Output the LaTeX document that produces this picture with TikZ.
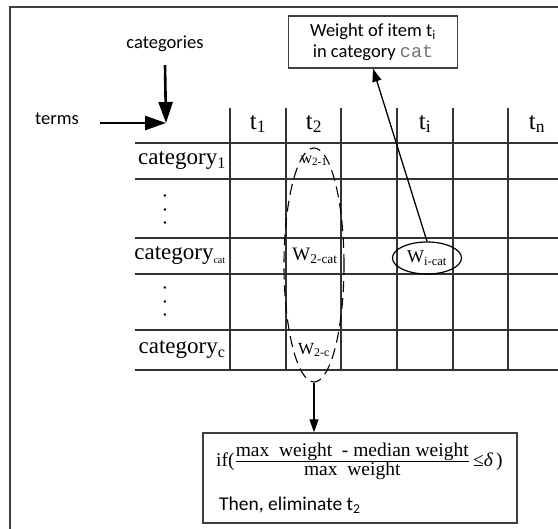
\documentclass[tikz,border=0pt]{standalone}
\usepackage{fontspec}
\setmainfont{Liberation Serif}
\setsansfont{Carlito}
\setmonofont{Liberation Mono}
\usetikzlibrary{arrows.meta, positioning, calc, shapes.geometric}

\begin{document}
\begin{tikzpicture}[x=1pt, y=-1pt,
		grid/.style={line width=1.4pt, black!80},
		lbl/.style={font=\sffamily\fontsize{18.5}{21}\selectfont, inner sep=0pt},
		cell/.style={font=\fontsize{23}{26}\selectfont, inner sep=0pt},
		vdots/.style={font=\fontsize{20}{22}\selectfont, inner sep=0pt, rotate=90},
		bigarrow/.style={line width=2.6pt, -{Triangle[length=21pt, width=14pt]}},
		smallarrow/.style={line width=1.3pt, -{Triangle[length=13pt, width=9pt]}},
		textbox/.style={draw, line width=1.3pt, black!75, text=black, inner sep=0pt}]
	\useasboundingbox (0,0) rectangle (558,529);
	\draw[line width=1.4pt, black!75] (10,7) rectangle (600,600);
	% the term/category grid
	\foreach \x in {230,286,341,397,453,508}
		\draw[grid] (\x,108) -- (\x,370);
	\foreach \y in {143,179,238,274,330,370}
		\draw[grid] (135,\y) -- (558,\y);
	\node[cell, font=\fontsize{25}{28}\selectfont] (h1) at (258,124) {t\textsubscript{1}};
	\node[cell, font=\fontsize{25}{28}\selectfont] (h2) at (314,124) {t\textsubscript{2}};
	\node[cell, font=\fontsize{25}{28}\selectfont] (hi) at (425,124) {t\textsubscript{i}};
	\node[cell, font=\fontsize{25}{28}\selectfont] (hn) at (537,124) {t\textsubscript{n}};
	\node[cell] (c1) at (182,161) {category\textsubscript{1}};
	\node[vdots] (d1) at (165,210) {.\hspace{8.5pt}.\hspace{8.5pt}.};
	\node[cell] (ccat) at (180,256) {category\textsubscript{\fontsize{10}{11}\selectfont cat}};
	\node[vdots] (d2) at (165,302) {.\hspace{8.5pt}.\hspace{8.5pt}.};
	\node[cell] (cc) at (182,350) {category\textsubscript{c}};
	\node[cell, font=\fontsize{16}{18}\selectfont] (w21) at (314,161) {w\textsubscript{2-1}};
	\node[cell, font=\fontsize{19}{22}\selectfont] (w2cat) at (315,256) {W\textsubscript{2-cat}};
	\node[cell, font=\fontsize{17}{20}\selectfont] (w2c) at (314,350) {W\textsubscript{2-c}};
	\node[draw, ellipse, line width=1.2pt, minimum width=69pt, minimum height=32pt,
		inner sep=0pt, font=\fontsize{18}{20}\selectfont] (wicat) at (427,258) {W\textsubscript{i-cat}};
	\node[draw, dashed, dash pattern=on 11pt off 6pt, ellipse, line width=1.1pt,
		minimum width=60pt, minimum height=234pt] (col2) at (314,265) {};
	% labels on the corner
	\coordinate (corner) at (166,123);
	\node[lbl] (cats) at (165,44) {categories};
	\node[lbl] (terms) at (57,119) {terms};
	\draw[bigarrow] ([yshift=-13pt]cats.south) -- (corner);
	\draw[bigarrow] ([xshift=21pt]terms.east |- corner) -- (corner);
	% notes
	\node[textbox, minimum width=169pt, minimum height=52pt, lbl, align=center] (wt) at (373,42)
		{Weight of item t\textsubscript{i}\\in category {\ttfamily\color{black!55}cat}};
	\draw[smallarrow] (wicat.north) -- (wt.south);
	\node[textbox, minimum width=314pt, minimum height=90pt] (rule) at (360,478) {};
	\node[cell, font=\fontsize{19.5}{22}\selectfont, anchor=west] (cond) at (216,461)
		{if($\frac{\mbox{max\ \ weight\ \ - median weight}}{\mbox{max\ \ weight}}$\,≤{\itshape δ}\,)};
	\node[lbl, font=\sffamily\fontsize{19.5}{22}\selectfont, anchor=west] (elim) at (219,505) {Then, eliminate t\textsubscript{2}};
	\draw[smallarrow] (col2.south) -- (col2.south |- rule.north);
\end{tikzpicture}
\end{document}
